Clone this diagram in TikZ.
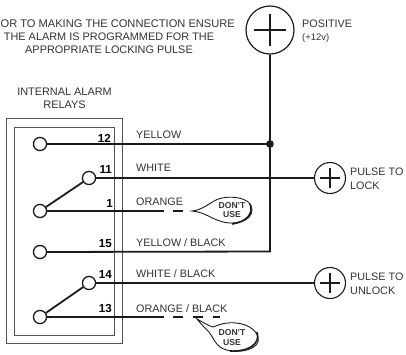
\documentclass[tikz,border=0pt]{standalone}
\usepackage{fontspec}
\setmainfont{Liberation Sans}
\definecolor{ink}{HTML}{1C1C1C}
\definecolor{soft}{HTML}{333333}
\definecolor{boxc}{HTML}{555555}
\tikzset{
  x=1pt,y=-1pt,
  wire/.style={line width=1.8pt,draw=ink},
  term/.style={circle,draw=ink,line width=1.2pt,fill=white,minimum size=13pt,inner sep=0pt},
  plusc/.style={circle,draw=ink,line width=1.1pt,fill=white,minimum size=31pt,inner sep=0pt},
  plusbar/.style={line width=1.1pt,draw=ink},
  lbl/.style={font=\fontsize{10.8}{14}\selectfont,text=soft,inner sep=0pt},
  num/.style={font=\fontsize{11.6}{12}\bfseries\selectfont,text=black,inner sep=0pt},
  hdr/.style={font=\fontsize{10.9}{13.2}\selectfont,text=soft,inner sep=0pt,align=center},
  dnu/.style={font=\fontsize{8.6}{9.2}\bfseries\selectfont,text=soft,inner sep=0pt,align=center},
  boxl/.style={draw=boxc,line width=.8pt},
}
\begin{document}
\begin{tikzpicture}
\useasboundingbox (0,0) rectangle (406,354);
\fill[white] (0,0) rectangle (406,354);
% relay housing
\draw[boxl] (6.5,118) rectangle (122,343);
\draw[boxl] (14,127) rectangle (114,335);
% named points
\node[term] (t12) at (40,144) {};
\node[term] (t11) at (89,178) {};
\node[term] (t1) at (40,211) {};
\node[term] (t15) at (40,252) {};
\node[term] (t14) at (89,283) {};
\node[term] (t13) at (40,317) {};
\node[circle,draw=ink,line width=1.2pt,fill=white,minimum size=48pt,inner sep=0pt] (pos) at (270,30) {};
\node[plusc] (lock) at (330,178) {};
\node[plusc] (unlock) at (330,283) {};
\coordinate (j) at (270,144);
\coordinate (c15) at (270,251.5);
\coordinate (o1) at (164,211);
\coordinate (o1d) at (184,211);
\coordinate (o13) at (164,317);
\coordinate (o13d) at (220,317);
% wires
\draw[wire] (pos) -- (c15) -- (t15);
\draw[wire] (t12) -- (j);
\fill[ink] (j) circle (3.8);
\draw[wire] (t11) -- (lock);
\draw[wire] (t14) -- (unlock);
\draw[wire] (t1) -- (t11);
\draw[wire] (t13) -- (t14);
\draw[wire] (t1) -- (o1);
\draw[wire] (t13) -- (o13);
\draw[wire,dash pattern=on 10pt off 10pt] (o1) ++(9,0) -- (o1d);
\draw[wire,dash pattern=on 10pt off 10pt] (o13) ++(9,0) -- (o13d);
% terminals on top of the wires
\node[term] at (t12) {};
\node[term] at (t11) {};
\node[term] at (t1) {};
\node[term] at (t15) {};
\node[term] at (t14) {};
\node[term] at (t13) {};
% plus signs
\draw[line width=1.3pt,draw=ink] (pos.center) ++(-16,0) -- ++(32,0) (pos.center) ++(0,-16) -- ++(0,32);
\draw[plusbar] (lock.center) ++(-10,0) -- ++(20,0) (lock.center) ++(0,-10) -- ++(0,20);
\draw[plusbar] (unlock.center) ++(-10,0) -- ++(20,0) (unlock.center) ++(0,-10) -- ++(0,20);
% callouts
\draw[ink,line width=.9pt,fill=white] (192,211)
  .. controls (202,210) and (208,204) .. (216,200)
  .. controls (226,195) and (251,196) .. (252,209)
  .. controls (253,222) and (232,226) .. (220,221)
  .. controls (210,218) and (204,212) .. (192,211) -- cycle;
\draw[ink,line width=1.6pt] (250,204) .. controls (254,214) and (246,222) .. (232,224);
\node[dnu] (d1) at (232,210) {DON'T\\USE};
\draw[ink,line width=.9pt,fill=white] (197,319)
  .. controls (203,322) and (208,326) .. (213,327)
  .. controls (220,324) and (228,322) .. (236,323)
  .. controls (250,324) and (260,333) .. (258,342)
  .. controls (255,351) and (232,355) .. (220,347)
  .. controls (214,342) and (213,337) .. (209,332)
  .. controls (205,328) and (201,324) .. (197,319) -- cycle;
\draw[ink,line width=1.6pt] (257,332) .. controls (261,344) and (248,352) .. (230,351);
\node[dnu] (d2) at (232,337.5) {DON'T\\USE};
% texts
\node[hdr,anchor=east,font=\fontsize{11.1}{13}\selectfont] (h1) at (235,24) {OR TO MAKING THE CONNECTION ENSURE};
\node[hdr] (h2) at (109,37) {THE ALARM IS PROGRAMMED FOR THE};
\node[hdr] (h3) at (109,50) {APPROPRIATE LOCKING PULSE};
\node[hdr] (rel) at (64.5,98.5) {INTERNAL ALARM\\RELAYS};
\node[lbl,anchor=west] (p1) at (302,24) {POSITIVE};
\node[lbl,anchor=west,font=\fontsize{9.5}{10}\selectfont] (p2) at (302,38) {(+12v)};
\node[lbl,anchor=west] at (136,135) {YELLOW};
\node[lbl,anchor=west] at (136,168) {WHITE};
\node[lbl,anchor=west] at (136,202) {ORANGE};
\node[lbl,anchor=west] at (136,243) {YELLOW / BLACK};
\node[lbl,anchor=west] at (136,274) {WHITE / BLACK};
\node[lbl,anchor=west] at (136,309) {ORANGE / BLACK};
\node[num,anchor=east] at (111,138) {12};
\node[num,anchor=east] at (112,170) {11};
\node[num,anchor=east] at (113,204) {1};
\node[num,anchor=east] at (112,244) {15};
\node[num,anchor=east] at (112,275) {14};
\node[num,anchor=east] at (112,309) {13};
\node[lbl,anchor=west,align=left] at (350,179) {PULSE TO\\LOCK};
\node[lbl,anchor=west,align=left] at (350,284) {PULSE TO\\UNLOCK};
\end{tikzpicture}
\end{document}
